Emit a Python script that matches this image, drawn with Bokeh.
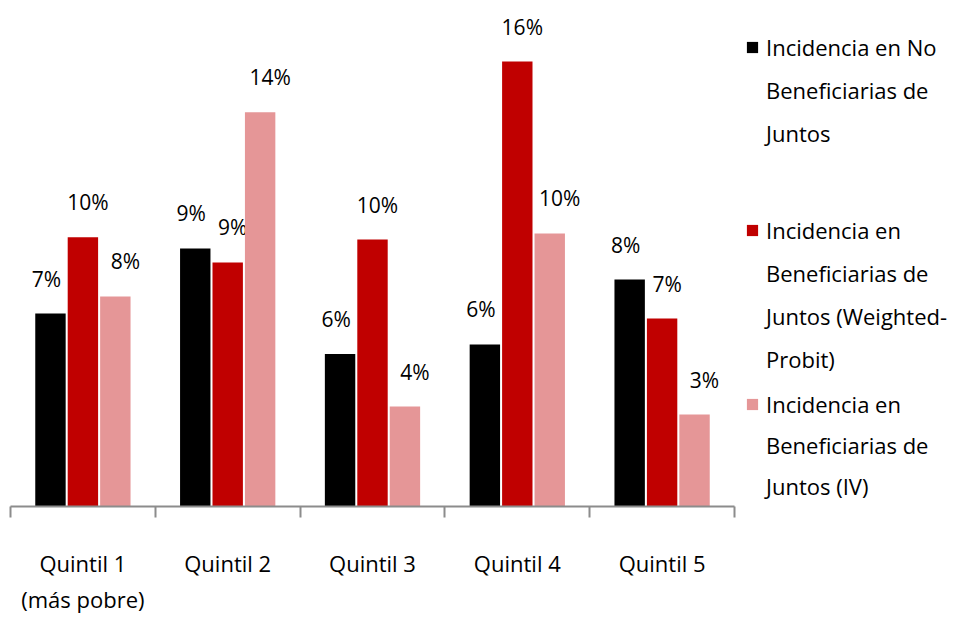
from bokeh.plotting import figure
from bokeh.models import (Range1d, LinearAxis, FixedTicker,
                          ColumnDataSource, Legend, LegendItem)
from bokeh.transform import dodge
from bokeh.embed import file_html
from bokeh.resources import INLINE
from bokeh.core.properties import value

categories = ["Quintil 1\n(más pobre)", "Quintil 2", "Quintil 3", "Quintil 4", "Quintil 5"]
no_benef = [6.99, 9.35, 5.52, 5.87, 8.22]
benef_wp = [9.75, 8.84, 9.67, 16.12, 6.81]
benef_iv = [7.61, 14.28, 3.62, 9.89, 3.33]
series_names = [["Incidencia en No", "Beneficiarias de", "Juntos"],
                ["Incidencia en", "Beneficiarias de", "Juntos (Weighted-", "Probit)"],
                ["Incidencia en", "Beneficiarias de", "Juntos (IV)"]]
colors = ["#000000", "#C00000", "#E59697"]
offsets = [-0.224, 0.0, 0.224]
label_dx = [-4, 5, 10]

FONT = "Open Sans"

n = len(categories)
centers = [i + 0.5 for i in range(n)]

W, H = 964, 621
LEFT, BOTTOM = 10, 115
FRAME_W, FRAME_H = W - LEFT, H - BOTTOM
CAT_PX = 144.8  # pixel width of one category slot

p = figure(width=W, height=H, x_range=Range1d(0, FRAME_W / CAT_PX), y_range=Range1d(0, 18.33),
           output_backend="svg", toolbar_location=None, x_axis_location=None, y_axis_location=None,
           min_border_left=LEFT, min_border_right=0, min_border_top=0, min_border_bottom=BOTTOM)
p.outline_line_color = None
p.xgrid.visible = False
p.ygrid.visible = False

# boundary tick axis (line limited to the category slots)
tick_axis = LinearAxis(ticker=FixedTicker(ticks=list(range(n + 1))), bounds=(0, n),
                       major_label_overrides={i: "" for i in range(n + 1)})
tick_axis.axis_line_color = "#8C8C8C"
tick_axis.axis_line_width = 2
tick_axis.major_tick_line_color = "#8C8C8C"
tick_axis.major_tick_line_width = 2
tick_axis.major_tick_in = 0
tick_axis.major_tick_out = 11
tick_axis.minor_tick_line_color = None
tick_axis.major_label_text_font_size = "1px"
tick_axis.major_label_standoff = 0
p.add_layout(tick_axis, "below")

cat_axis = LinearAxis(ticker=FixedTicker(ticks=centers), bounds=(0, n),
                      major_label_overrides={c: lab for c, lab in zip(centers, categories)})
cat_axis.axis_line_color = None
cat_axis.major_tick_line_color = None
cat_axis.minor_tick_line_color = None
cat_axis.major_label_text_font = FONT
cat_axis.major_label_text_font_size = "22px"
cat_axis.major_label_text_color = "#000000"
cat_axis.major_label_standoff = 24
p.add_layout(cat_axis, "below")

series = [no_benef, benef_wp, benef_iv]
legend_tops = [25, 208, 383]
row_heights = [43, 43, 41]
for vals, lines, col, off, dx, top, rh in zip(series, series_names, colors, offsets,
                                              label_dx, legend_tops, row_heights):
    src = ColumnDataSource(dict(pos=centers, cat=categories, val=vals,
                                lab=["%d%%" % round(v) for v in vals]))
    r = p.vbar(x=dodge("pos", off), top="val", width=0.21, source=src,
               fill_color=col, line_color=None)
    p.text(x=dodge("pos", off), y="val", text="lab", source=src,
           text_align="center", text_baseline="alphabetic", x_offset=dx, y_offset=-35,
           text_font=value(FONT), text_font_size="21px", text_color="#000000")
    items = [LegendItem(label=lines[0], renderers=[r])]
    items += [LegendItem(label=t, renderers=[]) for t in lines[1:]]
    leg = Legend(items=items, location=(735, FRAME_H - top - rh * len(lines)))
    leg.label_text_font = FONT
    leg.label_text_font_size = "22px"
    leg.label_text_color = "#000000"
    leg.label_height = rh
    leg.glyph_width = 14
    leg.glyph_height = 14
    leg.label_standoff = 7
    leg.spacing = 0
    leg.border_line_color = None
    leg.background_fill_alpha = 0
    leg.padding = 0
    leg.margin = 0
    p.add_layout(leg, "center")

open("out.html", "w").write(file_html(p, INLINE))
